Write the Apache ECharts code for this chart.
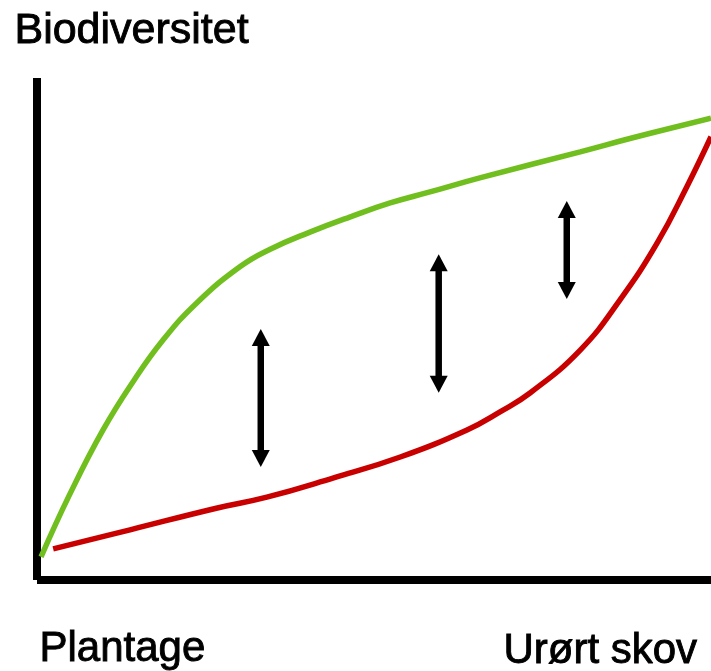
<!DOCTYPE html>
<html>
<head>
<meta charset="utf-8">
<script src="https://cdn.jsdelivr.net/npm/echarts@6/dist/echarts.min.js"></script>
<style>
  html, body { margin: 0; padding: 0; background: #fff; }
  #chart { width: 711px; height: 671px; }
</style>
</head>
<body>
<div id="chart"></div>
<script>
// labels
var yTitle = 'Biodiversitet';
var xStartLabel = 'Plantage';
var xEndLabel = 'Urørt skov';

// green curve (x, y), 0..100 scale
var greenX = [0.6, 4.8, 9.8, 14.4, 18.7, 23.7, 30.1, 34.6, 40.5, 46.4, 52.4, 58.3, 65.7, 80.6, 88.4, 100];
var greenY = [4.6, 16.9, 29.9, 39.8, 47.8, 55.2, 62.4, 65.9, 69.3, 72.3, 75.1, 77.3, 80.1, 85.3, 88.1, 92.0];

// red curve
var redX = [2.4, 13.8, 26.6, 34.1, 43.9, 53.9, 63.8, 68.7, 73.2, 80.6, 86.5, 92.0, 96.4, 100];
var redY = [6.2, 10.0, 14.3, 16.5, 20.3, 24.5, 29.9, 33.5, 37.3, 45.8, 55.8, 67.1, 78.3, 88.3];

// double arrows: x, bottom tip, top tip
var arrowX = [33.2, 59.6, 78.6];
var arrowLow = [22.5, 37.3, 56.0];
var arrowHigh = [50.0, 64.9, 75.5];

function pairs(xs, ys) {
    var out = [];
    for (var i = 0; i < xs.length; i++) {
        out.push([xs[i], ys[i]]);
    }
    return out;
}

var arrowData = [];
for (var i = 0; i < arrowX.length; i++) {
    arrowData.push([arrowX[i], arrowLow[i], arrowHigh[i]]);
}

function renderArrow(params, api) {
    var top = api.coord([api.value(0), api.value(2)]);
    var bot = api.coord([api.value(0), api.value(1)]);
    var hw = 9, hh = 17, sw = 6.5;
    return {
        type: 'group',
        children: [
            {
                type: 'rect',
                shape: { x: top[0] - sw / 2, y: top[1] + hh - 1, width: sw, height: bot[1] - top[1] - 2 * hh + 2 },
                style: { fill: '#000' }
            },
            {
                type: 'polygon',
                shape: { points: [[top[0], top[1]], [top[0] - hw, top[1] + hh], [top[0] + hw, top[1] + hh]] },
                style: { fill: '#000' }
            },
            {
                type: 'polygon',
                shape: { points: [[bot[0], bot[1]], [bot[0] - hw, bot[1] - hh], [bot[0] + hw, bot[1] - hh]] },
                style: { fill: '#000' }
            }
        ]
    };
}

var chart = echarts.init(document.getElementById('chart'));

function labelStyle(text, size) {
    return {
        text: text,
        fontFamily: '"Liberation Sans", Arial, sans-serif',
        fontSize: size,
        fill: '#000',
        stroke: '#000',
        lineWidth: 0.9
    };
}

var option = {
    animation: false,
    backgroundColor: '#fff',
    grid: { left: 37, right: 0, top: 78, bottom: 91 },
    xAxis: {
        type: 'value',
        min: 0,
        max: 100,
        axisLine: { show: true, lineStyle: { color: '#000', width: 8, cap: 'butt' } },
        axisTick: { show: false },
        axisLabel: { show: false },
        splitLine: { show: false }
    },
    yAxis: {
        type: 'value',
        min: 0,
        max: 100,
        axisLine: { show: true, lineStyle: { color: '#000', width: 8, cap: 'butt' } },
        axisTick: { show: false },
        axisLabel: { show: false },
        splitLine: { show: false }
    },
    graphic: [
        { type: 'text', left: 14, top: 9, style: labelStyle(yTitle, 43) },
        { type: 'text', left: 39, top: 628, style: labelStyle(xStartLabel, 42) },
        { type: 'text', left: 503, top: 630, style: labelStyle(xEndLabel, 42) }
    ],
    series: [
        {
            type: 'line',
            data: pairs(greenX, greenY),
            smooth: 0.45,
            showSymbol: false,
            lineStyle: { color: '#70bf1f', width: 5.5 }
        },
        {
            type: 'line',
            data: pairs(redX, redY),
            smooth: 0.45,
            showSymbol: false,
            lineStyle: { color: '#c80000', width: 5.5 }
        },
        {
            type: 'custom',
            renderItem: renderArrow,
            data: arrowData
        }
    ]
};

chart.setOption(option);
</script>
</body>
</html>
